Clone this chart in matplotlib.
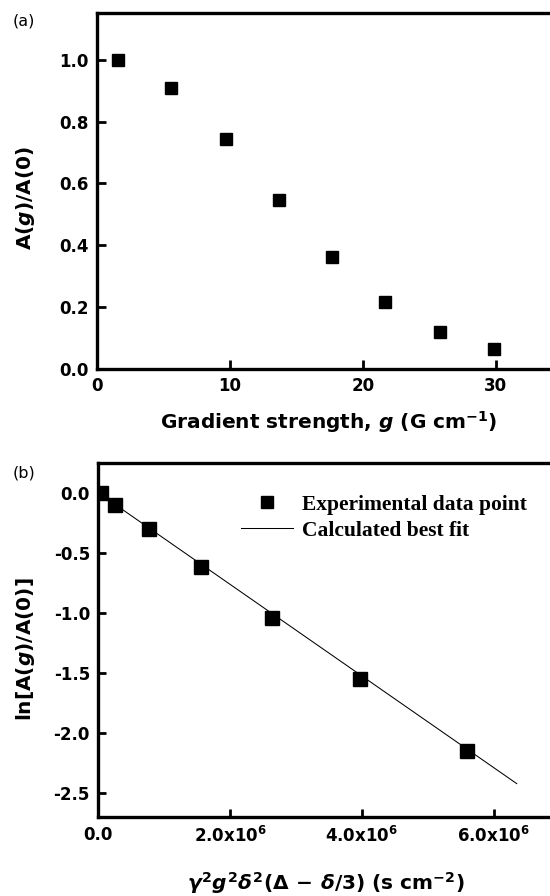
import matplotlib
matplotlib.use("Agg")
import matplotlib.pyplot as plt
from matplotlib.ticker import FuncFormatter

# panel (a): normalised echo amplitude vs gradient strength
g_strength = [1.6, 5.6, 9.7, 13.7, 17.7, 21.7, 25.8, 29.9]
amp_ratio = [1.0, 0.91, 0.745, 0.546, 0.361, 0.217, 0.120, 0.064]

# panel (b): ln of amplitude ratio vs gamma^2 g^2 delta^2 (Delta - delta/3)
b_factor = [0.04e6, 0.25e6, 0.77e6, 1.56e6, 2.63e6, 3.97e6, 5.59e6]
ln_ratio = [0.0, -0.10, -0.305, -0.62, -1.04, -1.55, -2.15]
fit_x = [0.0, 6.35e6]
fit_y = [0.0, -2.42]

a_ticks = [0, 10, 20, 30]
a_yticks = [0.0, 0.2, 0.4, 0.6, 0.8, 1.0]
b_xticks = [0.0, 2.0e6, 4.0e6, 6.0e6]
b_yticks = [0.0, -0.5, -1.0, -1.5, -2.0, -2.5]

plt.rcParams['font.family'] = 'DejaVu Sans'
plt.rcParams['mathtext.fontset'] = 'custom'
plt.rcParams['mathtext.rm'] = 'DejaVu Sans:bold'
plt.rcParams['mathtext.bf'] = 'DejaVu Sans:bold'
plt.rcParams['mathtext.it'] = 'DejaVu Sans:italic:bold'

W, H = 550, 896
fig = plt.figure(figsize=(W / 100, H / 100), dpi=100)


def px_axes(left, top, right, bottom):
    return fig.add_axes([left / W, 1 - bottom / H, (right - left) / W, (bottom - top) / H])


def style(ax, ticklen):
    for side in ['left', 'bottom', 'top']:
        ax.spines[side].set_linewidth(2.4)
    ax.spines['right'].set_visible(False)
    ax.tick_params(direction='in', length=ticklen, width=2, pad=6,
                   top=False, right=False, labelsize=12)
    for lab in ax.get_xticklabels() + ax.get_yticklabels():
        lab.set_fontweight('bold')


# ---- (a)
ax1 = px_axes(96.7, 13.3, 553, 369)
ax1.plot(g_strength, amp_ratio, 's', color='black', markersize=8.9)
ax1.set_xlim(0, 34.3)
ax1.set_ylim(0, 1.15)
ax1.set_xticks(a_ticks)
ax1.set_yticks(a_yticks)
ax1.yaxis.set_major_formatter(FuncFormatter(lambda v, p: f"{v:.1f}"))
style(ax1, 6.5)
ax1.set_xlabel(r'Gradient strength, $\mathit{g}$ (G cm$^{-1}$)',
               fontsize=14.5, fontweight='bold')
ax1.set_ylabel(r'A($\mathit{g}$)/A(0)', fontsize=14.5, fontweight='bold')
ax1.xaxis.set_label_coords(0.509, -0.112)
ax1.yaxis.set_label_coords(-0.131, 0.482)
fig.text(12.7 / W, 1 - 21 / H, '(a)', fontsize=11.5, va='center', ha='left')

# ---- (b)
ax2 = px_axes(98.3, 463.3, 553, 817.3)
ax2.plot(b_factor, ln_ratio, 's', color='black', markersize=9.5,
         label='Experimental data point')
ax2.plot(fit_x, fit_y, '-', color='black', linewidth=0.75,
         label='Calculated best fit')
ax2.set_xlim(0, 6.9e6)
ax2.set_ylim(-2.70, 0.245)
ax2.set_xticks(b_xticks)
ax2.set_yticks(b_yticks)


def sci_fmt(v, p):
    if v == 0:
        return "0.0"
    return f"{v / 1e6:.1f}x10$^{{6}}$"


ax2.xaxis.set_major_formatter(FuncFormatter(sci_fmt))
ax2.yaxis.set_major_formatter(FuncFormatter(lambda v, p: f"{v:.1f}"))
style(ax2, 5.5)
ax2.set_xlabel(r'$\mathit{\gamma}^{2}\mathit{g}^{2}\mathit{\delta}^{2}(\Delta\,-\,\mathit{\delta}/3)$ (s cm$^{-2}$)',
               fontsize=14.5, fontweight='bold')
ax2.set_ylabel(r'ln[A($\mathit{g}$)/A(0)]', fontsize=14.5, fontweight='bold')
ax2.xaxis.set_label_coords(0.501, -0.149)
ax2.yaxis.set_label_coords(-0.135, 0.475)
fig.text(12.7 / W, 1 - 473 / H, '(b)', fontsize=11.5, va='center', ha='left')

leg = ax2.legend(loc='upper left', bbox_to_anchor=(0.313, 0.911), frameon=False,
                 borderpad=0, borderaxespad=0, handlelength=2.45,
                 handletextpad=0.4, labelspacing=0.27, markerscale=0.94,
                 prop={'family': 'Liberation Serif', 'weight': 'bold', 'size': 15.5})

fig.savefig('out.png', dpi=100)
